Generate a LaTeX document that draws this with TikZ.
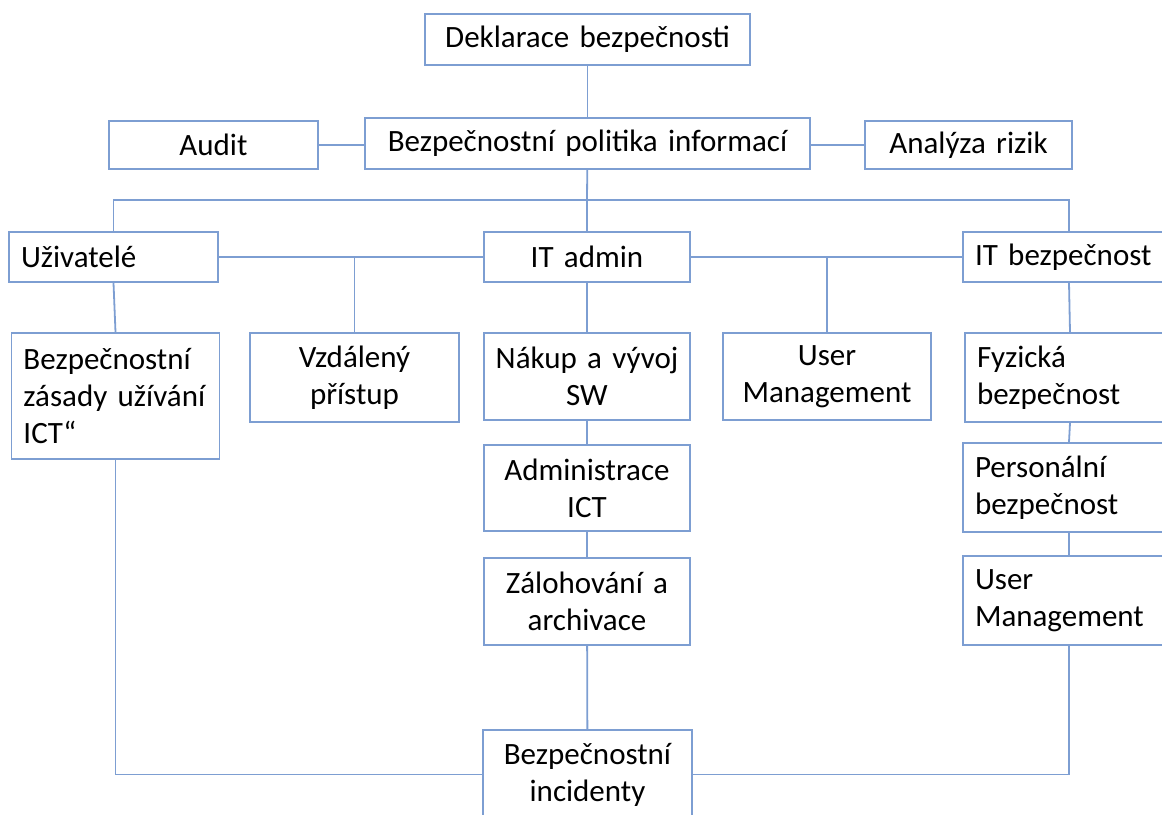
\documentclass[tikz,border=0pt]{standalone}
\usepackage{fontspec}
\setmainfont{Carlito}
\usepackage{tikz}
\usetikzlibrary{calc, positioning}
\definecolor{linec}{RGB}{125,158,210}

\begin{document}
\begin{tikzpicture}[x=0.5pt,y=-0.5pt,
    blk/.style={draw=linec, line width=0.9pt, fill=white, inner xsep=3pt, inner ysep=0pt,
        font=\fontsize{15.5}{18.6}\selectfont, align=center},
    lft/.style={blk, inner xsep=6pt, align=left},
    con/.style={draw=linec, line width=0.9pt}]
    \useasboundingbox (0,0) rectangle (1162,814);
    \clip (0,0) rectangle (1162,814);
    % top part
    \node[blk, text width=156.5pt, minimum height=25.5pt] (decl) at (587.5,39.5) {Deklarace bezpečnosti};
    \node[blk, text width=98.5pt, minimum height=24pt] (audit) at (213.5,145) {Audit};
    \node[blk, text width=216.5pt, minimum height=25.5pt] (policy) at (587.5,143.5) {Bezpečnostní politika informací};
    \node[blk, text width=97.5pt, minimum height=24pt] (risk) at (968.5,145) {Analýza rizik};
    % second row
    \node[lft, text width=92.5pt, minimum height=25pt] (users) at (113.5,257) {Uživatelé};
    \node[blk, text width=97pt, minimum height=25pt] (itadm) at (587,257) {IT admin};
    \node[lft, text width=94pt, minimum height=25pt] (itsec) at (1069,257) {IT bezpečnost};
    % third row
    \node[lft, text width=92pt, minimum height=63pt] (rules) at (115.5,396) {Bezpečnostní\\zásady užívání\\ICT“};
    \node[blk, text width=98.5pt, minimum height=44.5pt] (remote) at (354.5,377.5) {Vzdálený\\přístup};
    \node[blk, text width=97pt, minimum height=43.5pt] (buy) at (587,376.5) {Nákup a vývoj\\SW};
    \node[blk, text width=98pt, minimum height=43.5pt] (mgmtA) at (827,376.5) {User\\Management};
    \node[lft, text width=93pt, minimum height=44.5pt] (phys) at (1070,377.5) {Fyzická\\bezpečnost};
    % columns
    \node[blk, text width=97pt, minimum height=43pt] (admin) at (587,488) {Administrace\\ICT};
    \node[blk, text width=97pt, minimum height=43.5pt] (backup) at (587,601.5) {Zálohování a\\archivace};
    \node[lft, text width=94pt, minimum height=44.5pt] (pers) at (1069,487.5) {Personální\\bezpečnost};
    \node[lft, text width=94pt, minimum height=44.5pt] (mgmtB) at (1069,600.5) {User\\Management};
    \node[blk, text width=98.5pt, minimum height=44.5pt] (incid) at (587.5,774.5) {Bezpečnostní\\incidenty};
    \coordinate (bus) at (587,200);

    \draw[con] (decl) -- (policy);
    \draw[con] (audit.east) -- (audit.east -| policy.west);
    \draw[con] (risk.west) -- (risk.west -| policy.east);
    \draw[con] (policy) -- (bus);
    \draw[con] (users.north) |- (bus) -| (itsec.north);
    \draw[con] (bus) -- (itadm);
    \draw[con] (users.east) -- (itadm.west);
    \draw[con] (itadm.east) -- (itsec.west);
    \draw[con] (remote.north) -- (remote.north |- users.east);
    \draw[con] (mgmtA.north) -- (mgmtA.north |- itadm.east);
    \draw[con] (users.south) -- (rules.north);
    \draw[con] (itadm) -- (buy) -- (admin) -- (backup) -- (incid);
    \draw[con] (itsec.south) -- (phys.north);
    \draw[con] (phys.south) -- (pers.north);
    \draw[con] (pers) -- (mgmtB);
    \draw[con] (rules.south) |- (incid.west);
    \draw[con] (mgmtB.south) |- (incid.east);
\end{tikzpicture}
\end{document}
